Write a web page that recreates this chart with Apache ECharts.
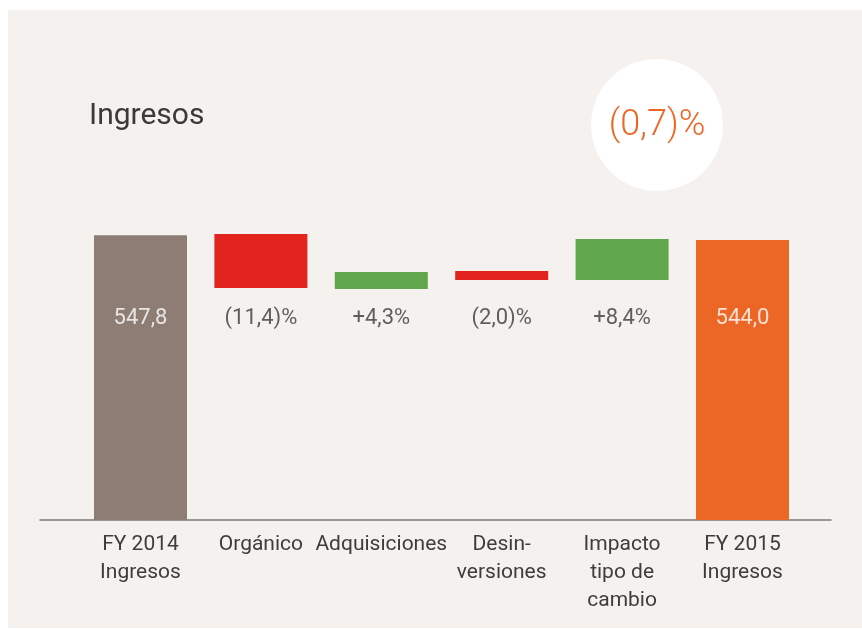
<!DOCTYPE html>
<html>
<head>
<meta charset="utf-8">
<script src="https://cdn.jsdelivr.net/npm/echarts@6/dist/echarts.min.js"></script>
<style>
  html, body { margin: 0; padding: 0; background: #ffffff; }
  #panel { position: absolute; left: 8px; top: 10px; width: 854px; height: 618px; background: #f4f1ee; }
  #chart { position: absolute; left: 0; top: 0; width: 862px; height: 630px; }
</style>
</head>
<body>
<div id="panel"></div>
<div id="chart"></div>
<script>
// waterfall data
const categories = ['FY 2014\nIngresos', 'Orgánico', 'Adquisiciones', 'Desin-\nversiones', 'Impacto\ntipo de\ncambio', 'FY 2015\nIngresos']
const barBottom = [0, 446.2, 444.2, 461.5, 461.5, 0]
const barTop = [547.8, 550.0, 476.9, 478.8, 540.4, 538.5]
const barLabels = ['547,8', '(11,4)%', '+4,3%', '(2,0)%', '+8,4%', '544,0']
const barColors = ['#8d7d74', '#e2231e', '#5fa64c', '#e2231e', '#5fa64c', '#ec6726']
const totalChange = '(0,7)%'
const chartTitle = 'Ingresos'

const font = 'Roboto'
const labelLevel = 388 // y value where the value labels sit
const isTotal = (i) => i === 0 || i === categories.length - 1

const chart = echarts.init(document.getElementById('chart'))

const option = {
  animation: false,
  backgroundColor: 'transparent',
  textStyle: { fontFamily: font },
  title: {
    text: chartTitle,
    left: 84,
    top: 96,
    textStyle: { fontFamily: font, fontSize: 30, fontWeight: 'normal', color: '#3a3a3a' }
  },
  graphic: [
    {
      type: 'circle',
      shape: { cx: 657, cy: 125, r: 66 },
      style: { fill: '#ffffff' },
      silent: true
    },
    {
      type: 'text',
      x: 657,
      y: 126,
      style: {
        text: totalChange,
        fill: '#ec6726',
        font: '300 36px ' + font,
        align: 'center',
        verticalAlign: 'middle'
      },
      silent: true
    }
  ],
  grid: [
    { left: 80.3, right: 59.3, top: 208, height: 312 },
    { left: 40, right: 31, top: 208, height: 312 }
  ],
  xAxis: [
    {
      type: 'category',
      data: categories,
      gridIndex: 0,
      axisLine: { show: false },
      axisTick: { show: false },
      axisLabel: {
        interval: 0,
        margin: 11,
        fontSize: 21,
        lineHeight: 28,
        color: '#3d3d3d',
        fontFamily: font
      }
    },
    {
      type: 'value',
      gridIndex: 1,
      axisLine: { show: true, lineStyle: { color: '#7a7a7a', width: 1.5 } },
      axisTick: { show: false },
      axisLabel: { show: false },
      splitLine: { show: false }
    }
  ],
  yAxis: [
    { type: 'value', min: 0, max: 600, gridIndex: 0, show: false },
    { type: 'value', gridIndex: 1, show: false }
  ],
  series: [
    {
      name: 'base',
      type: 'bar',
      stack: 'wf',
      barWidth: 93,
      itemStyle: { color: 'transparent' },
      data: barBottom
    },
    {
      name: 'bar',
      type: 'bar',
      stack: 'wf',
      barWidth: 93,
      data: barTop.map((t, i) => ({
        value: +(t - barBottom[i]).toFixed(1),
        itemStyle: { color: barColors[i] }
      }))
    },
    {
      name: 'labels',
      type: 'scatter',
      symbolSize: 0,
      data: categories.map((c, i) => ({
        value: [i, labelLevel],
        label: {
          show: true,
          position: 'inside',
          formatter: barLabels[i],
          fontSize: 22,
          fontFamily: font,
          color: isTotal(i) ? '#ffffff' : '#3a3a3a'
        }
      })),
      z: 5
    }
  ]
}

chart.setOption(option)
</script>
</body>
</html>
